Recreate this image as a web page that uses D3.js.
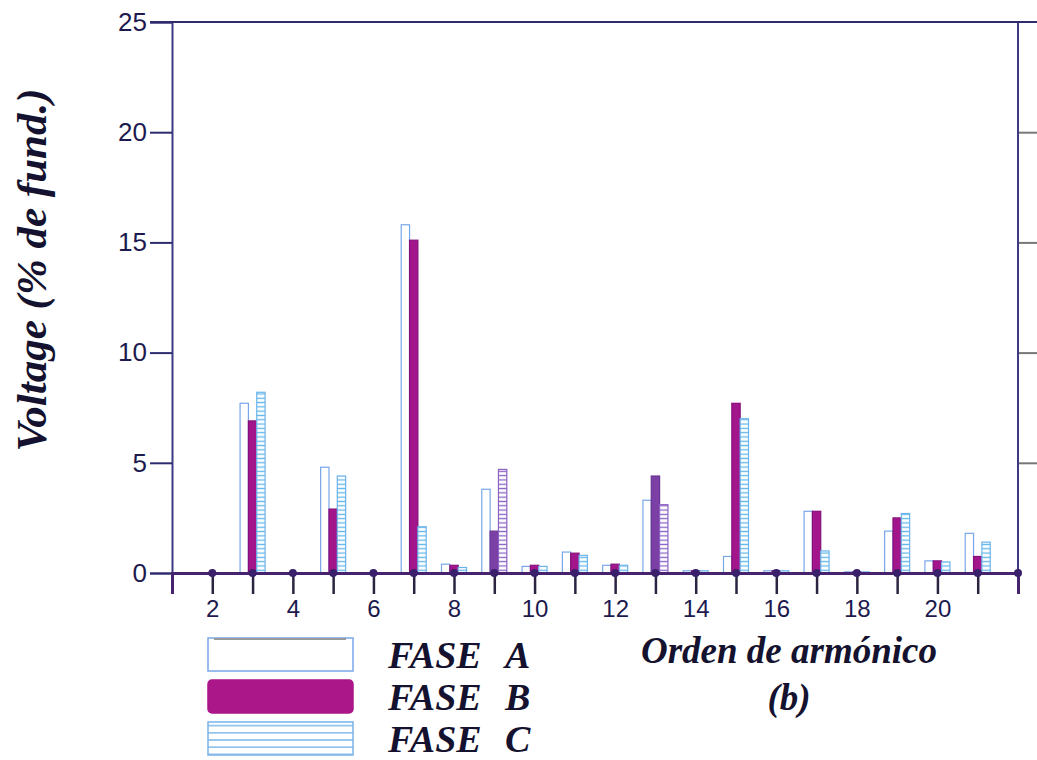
<!DOCTYPE html>
<html>
<head>
<meta charset="utf-8">
<script src="https://cdn.jsdelivr.net/npm/d3@7"></script>
<style>
  body { margin: 0; background: #fff; }
  svg { display: block; }
  .tick text { font-family: "Liberation Sans", Arial, sans-serif; font-size: 24px; fill: #1d1a4e; }
  .y.axis .tick text { font-size: 26px; }
  .title { font-family: "Liberation Serif", "Times New Roman", serif; font-weight: bold; font-style: italic; fill: #14122e; }
</style>
</head>
<body>
<div id="chart"></div>
<script>
// harmonic orders and voltage (% of fundamental) per phase
const orders = [2, 3, 4, 5, 6, 7, 8, 9, 10, 11, 12, 13, 14, 15, 16, 17, 18, 19, 20, 21];
const faseA = [0, 7.7, 0, 4.8, 0, 15.8, 0.4, 3.8, 0.3, 0.95, 0.35, 3.3, 0.1, 0.75, 0.1, 2.8, 0.05, 1.9, 0.55, 1.8];
const faseB = [0, 6.9, 0, 2.9, 0, 15.1, 0.35, 1.9, 0.35, 0.9, 0.4, 4.4, 0.1, 7.7, 0.1, 2.8, 0.05, 2.5, 0.55, 0.75];
const faseC = [0, 8.2, 0, 4.4, 0, 2.1, 0.25, 4.7, 0.3, 0.8, 0.35, 3.1, 0.1, 7.0, 0.1, 1.0, 0.05, 2.7, 0.5, 1.4];
const yTicks = [0, 5, 10, 15, 20, 25];
const xLabels = [2, 4, 6, 8, 10, 12, 14, 16, 18, 20];
const seriesNames = ['FASE A', 'FASE B', 'FASE C'];
const tintedOrders = [9, 13]; // bars that came out violet in the scan

const margin = { left: 172, right: 19, top: 22, bottom: 187 };
const W = 1037, H = 760;
const width = W - margin.left - margin.right;
const height = H - margin.top - margin.bottom;

const svg = d3.select('#chart').append('svg')
  .attr('width', W)
  .attr('height', H);

// patterns for phase C stripes
const defs = svg.append('defs');
function stripes(id, step, color) {
  const p = defs.append('pattern')
    .attr('id', id)
    .attr('patternUnits', 'userSpaceOnUse')
    .attr('width', 10).attr('height', step);
  p.append('rect').attr('width', 10).attr('height', step).attr('fill', '#fff');
  p.append('line')
    .attr('x1', 0).attr('x2', 10)
    .attr('y1', step / 2).attr('y2', step / 2)
    .attr('stroke', color).attr('stroke-width', 1.3);
}
stripes('stripeC', 4.3, '#5fb7ea');
stripes('stripeV', 4.3, '#8a62c4');
stripes('stripeLegend', 7.2, '#6aaee6');

const g = svg.append('g')
  .attr('transform', 'translate(' + margin.left + ',' + margin.top + ')');

// Scales
const x = d3.scaleLinear().domain([1, 22]).range([0, width]);
const y = d3.scaleLinear().domain([0, 25]).range([height, 0]);
const inner = d3.scaleBand().domain(seriesNames).range([-12.5, 12.5]);

// Bars
const rows = [];
orders.forEach((o, i) => {
  rows.push({ order: o, s: 'FASE A', v: faseA[i] });
  rows.push({ order: o, s: 'FASE B', v: faseB[i] });
  rows.push({ order: o, s: 'FASE C', v: faseC[i] });
});
const tinted = d => tintedOrders.includes(d.order);

g.selectAll('.bar')
  .data(rows.filter(d => d.v > 0))
  .enter()
  .append('rect')
  .attr('class', 'bar')
  .attr('x', d => x(d.order) + inner(d.s))
  .attr('width', inner.bandwidth())
  .attr('y', d => y(d.v))
  .attr('height', d => y(0) - y(d.v))
  .attr('fill', d => {
    if (d.s === 'FASE A') return '#fff';
    if (d.s === 'FASE B') return tinted(d) ? '#7b3fa6' : '#a3168b';
    return tinted(d) ? 'url(#stripeV)' : 'url(#stripeC)';
  })
  .attr('stroke', d => {
    if (d.s === 'FASE A') return '#78a6ea';
    if (d.s === 'FASE B') return tinted(d) ? '#6a3494' : '#86107a';
    return tinted(d) ? '#8a62c4' : '#6ab4ec';
  })
  .attr('stroke-width', 1.2);

// Left axis
const yAxis = g.append('g')
  .attr('class', 'y axis')
  .call(d3.axisLeft(y).tickValues(yTicks).tickSize(22).tickPadding(3));
yAxis.select('.domain').attr('stroke', '#3c3a82').attr('stroke-width', 2);
yAxis.selectAll('.tick line').attr('stroke', '#2e2c6e').attr('stroke-width', 2);

// Right axis
const yAxisR = g.append('g')
  .attr('transform', 'translate(' + width + ',0)')
  .call(d3.axisRight(y).tickValues([5, 10, 15, 20]).tickSize(19).tickFormat(''));
yAxisR.select('.domain').remove();
yAxisR.selectAll('.tick line').attr('stroke', '#777').attr('stroke-width', 2);
g.append('line')
  .attr('x1', width).attr('x2', width)
  .attr('y1', 0).attr('y2', height + 20)
  .attr('stroke', '#3c3a82').attr('stroke-width', 2);

// Top line
g.append('line')
  .attr('x1', -22).attr('x2', width + margin.right)
  .attr('y1', 0).attr('y2', 0)
  .attr('stroke', '#2e2c6e').attr('stroke-width', 2.2);

// Bottom axis
const xAxis = g.append('g')
  .attr('class', 'x axis')
  .attr('transform', 'translate(0,' + height + ')')
  .call(d3.axisBottom(x).tickValues(orders).tickSize(21).tickPadding(6)
    .tickFormat(d => xLabels.includes(d) ? d : ''));
xAxis.select('.domain').attr('stroke', '#46226f').attr('stroke-width', 3);
xAxis.selectAll('.tick line').attr('stroke', '#2a2440').attr('stroke-width', 2.5);

g.selectAll('.dot')
  .data(orders.concat([22]))
  .enter()
  .append('circle')
  .attr('class', 'dot')
  .attr('cx', d => x(d))
  .attr('cy', height)
  .attr('r', 4)
  .attr('fill', '#3a1f6b');

// Axis titles
svg.append('text')
  .attr('class', 'title')
  .attr('transform', 'translate(46,270) rotate(-90)')
  .attr('text-anchor', 'middle')
  .style('font-size', '43px')
  .text('Voltage (% de fund.)');

svg.append('text')
  .attr('class', 'title')
  .attr('x', 789).attr('y', 663)
  .attr('text-anchor', 'middle')
  .style('font-size', '37px')
  .text('Orden de armónico');
svg.append('text')
  .attr('class', 'title')
  .attr('x', 789).attr('y', 710)
  .attr('text-anchor', 'middle')
  .style('font-size', '37px')
  .text('(b)');

// Legend
const legend = svg.append('g').attr('transform', 'translate(208,638)');
const legendItems = legend.selectAll('.item')
  .data(seriesNames)
  .enter()
  .append('g')
  .attr('class', 'item')
  .attr('transform', (d, i) => 'translate(0,' + (i * 42) + ')');

legendItems.append('rect')
  .attr('width', 145)
  .attr('height', 33)
  .attr('rx', (d, i) => i === 1 ? 4 : 0)
  .attr('fill', (d, i) => ['#fff', '#ab1689', 'url(#stripeLegend)'][i])
  .attr('stroke', (d, i) => ['#7aa8ea', '#ab1689', '#7ab2ea'][i])
  .attr('stroke-width', 1.5);
legend.append('line')
  .attr('x1', 6).attr('x2', 138)
  .attr('y1', 1).attr('y2', 1)
  .attr('stroke', '#999').attr('stroke-width', 2);

legendItems.append('text')
  .attr('class', 'title')
  .attr('x', 180).attr('y', 30)
  .style('font-size', '38px')
  .text(d => d.split(' ')[0]);
legendItems.append('text')
  .attr('class', 'title')
  .attr('x', 297).attr('y', 30)
  .style('font-size', '38px')
  .text(d => d.split(' ')[1]);
</script>
</body>
</html>
